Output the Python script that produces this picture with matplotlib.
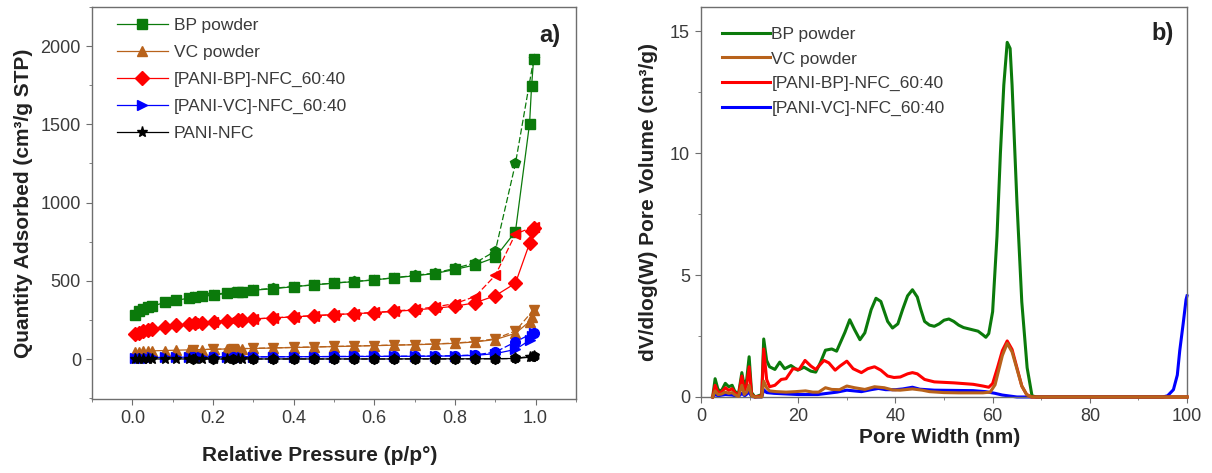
"""Nitrogen isotherms (a) and pore size distributions (b) for the carbon powders
and the PANI/NFC composites."""

import matplotlib
matplotlib.use("Agg")
import matplotlib.pyplot as plt
from matplotlib.ticker import MultipleLocator

# ---- panel a: isotherms ------------------------------------------------------
P_ADS = [0.007, 0.016, 0.026, 0.038, 0.05, 0.082, 0.109, 0.14, 0.156, 0.173,
         0.203, 0.236, 0.262, 0.272, 0.298, 0.35, 0.40, 0.45, 0.50, 0.55,
         0.60, 0.65, 0.70, 0.75, 0.80, 0.85, 0.90, 0.95, 0.985, 0.99, 0.995]
P_DES = [0.995, 0.95, 0.90, 0.85, 0.80, 0.75, 0.70, 0.65, 0.60, 0.55, 0.50,
         0.45, 0.40, 0.35, 0.30, 0.25, 0.20, 0.15]

BP_ADS = [285, 305, 320, 333, 340, 362, 375, 390, 395, 402, 410, 420, 428, 432,
          440, 450, 463, 474, 486, 495, 506, 520, 532, 547, 573, 602, 650, 815,
          1505, 1745, 1915]
BP_DES = [1915, 1250, 690, 615, 580, 550, 535, 520, 507, 496, 486, 475, 464,
          453, 442, 430, 412, 397]

VC_ADS = [45, 48, 50, 52, 53, 55, 57, 59, 60, 61, 63, 65, 66, 67, 68, 71, 74,
          77, 80, 83, 86, 89, 92, 96, 101, 110, 125, 165, 240, 270, 315]
VC_DES = [315, 180, 130, 112, 103, 97, 93, 90, 87, 84, 81, 78, 75, 72, 69, 66,
          63, 60]

PBP_ADS = [158, 170, 180, 188, 195, 205, 215, 225, 228, 232, 238, 245, 250, 252,
           256, 263, 270, 277, 285, 290, 297, 305, 314, 325, 338, 360, 405, 485,
           740, 820, 835]
PBP_DES = [845, 800, 535, 400, 355, 333, 318, 307, 298, 291, 284, 278, 271,
           264, 257, 250, 240, 230]

PVC_ADS = [8, 9, 10, 10, 11, 11, 12, 12, 12, 13, 13, 13, 14, 14, 14, 15, 15, 16,
           16, 17, 17, 18, 18, 19, 20, 24, 35, 62, 120, 145, 165]
PVC_DES = [170, 110, 45, 27, 22, 20, 19, 18, 18, 17, 17, 16, 16, 15, 15, 14,
           14, 13]

PN_ADS = [1, 1, 1, 1, 1, 1, 1, 1, 1, 1, 1, 1, 1, 1, 1, 1, 1, 1, 1, 1, 1, 1, 2,
          2, 2, 2, 3, 4, 12, 16, 22]
PN_DES = [22, 4, 2, 2, 1, 1, 1, 1, 1, 1, 1, 1, 1, 1, 1, 1, 1, 1]

# ---- panel b: pore size distributions -----------------------------------------
W_BP = [2.4, 2.9, 3.5, 4.2, 5.0, 5.7, 6.4, 6.9, 7.7, 8.4, 8.9, 9.4, 9.9, 10.4,
        11.1, 12.5, 12.9, 13.5, 14.1, 15.2, 16.2, 17.2, 18.5, 19.9, 21.2, 22.6,
        23.6, 24.6, 25.6, 26.9, 27.9, 29.6, 30.6, 31.6, 32.7, 33.7, 35.0, 36.0,
        37.0, 38.4, 39.4, 40.5, 41.5, 42.5, 43.5, 44.5, 45.2, 46.0, 47.0, 48.0,
        49.0, 50.0, 51.0, 52.0, 53.0, 54.0, 55.0, 56.0, 57.0, 58.0, 58.6, 59.2,
        60.0, 60.9, 61.6, 62.3, 63.0, 63.6, 64.0, 65.0, 66.0, 67.1, 68.1, 69.0,
        100.0]
V_BP = [0.0, 0.75, 0.3, 0.25, 0.56, 0.42, 0.48, 0.25, 0.1, 1.0, 0.45, 0.72,
        1.65, 0.18, 0.0, 0.1, 2.38, 1.5, 1.24, 1.13, 1.43, 1.16, 1.29, 1.1,
        1.22, 1.06, 1.02, 1.43, 1.92, 1.97, 1.88, 2.65, 3.17, 2.76, 2.35, 2.63,
        3.58, 4.05, 3.92, 3.1, 2.83, 3.0, 3.6, 4.15, 4.4, 4.1, 3.6, 3.1, 2.95,
        2.9, 3.0, 3.15, 3.2, 3.1, 2.95, 2.85, 2.8, 2.75, 2.7, 2.55, 2.45, 2.6,
        3.5, 6.6, 10.0, 12.8, 14.55, 14.3, 12.8, 8.0, 3.9, 1.2, 0.05, 0.0, 0.0]

W_VC = [2.4, 2.9, 3.5, 4.2, 5.0, 5.7, 6.4, 6.9, 7.7, 8.4, 8.9, 9.4, 9.9, 10.4,
        11.1, 12.5, 12.9, 13.5, 14.1, 15.5, 17.5, 19.5, 21.5, 23.0, 24.2, 25.6,
        26.9, 28.5, 30.0, 31.6, 33.7, 35.7, 37.7, 39.4, 41.0, 43.5, 45.5, 47.0,
        50.0, 53.0, 56.0, 58.0, 59.5, 60.5, 61.0, 62.0, 63.0, 64.0, 65.0, 66.0,
        67.0, 68.0, 69.0, 100.0]
V_VC = [0.0, 0.25, 0.1, 0.12, 0.2, 0.15, 0.18, 0.1, 0.02, 0.48, 0.1, 0.2, 0.48,
        0.05, 0.0, 0.0, 0.65, 0.38, 0.25, 0.22, 0.2, 0.22, 0.25, 0.2, 0.2, 0.38,
        0.31, 0.3, 0.45, 0.38, 0.31, 0.42, 0.38, 0.29, 0.28, 0.33, 0.28, 0.22,
        0.18, 0.17, 0.17, 0.17, 0.2, 0.5, 0.9, 1.7, 2.2, 1.85, 1.15, 0.45, 0.1,
        0.0, 0.0, 0.0]

W_PBP = [2.4, 2.9, 3.5, 4.2, 5.0, 5.7, 6.4, 6.9, 7.7, 8.4, 8.9, 9.4, 9.9, 10.4,
         11.1, 12.5, 12.9, 13.5, 14.1, 15.2, 16.5, 17.5, 18.9, 20.2, 21.4, 22.6,
         23.6, 25.3, 26.3, 27.6, 28.6, 30.0, 31.3, 33.0, 34.3, 35.7, 37.0, 38.4,
         39.7, 41.0, 42.5, 43.5, 44.5, 46.0, 48.0, 50.0, 52.0, 54.0, 56.0, 58.0,
         59.2, 60.0, 61.0, 62.0, 63.0, 64.0, 65.0, 66.0, 67.0, 68.0, 69.0, 100.0]
V_PBP = [0.0, 0.48, 0.18, 0.2, 0.38, 0.27, 0.34, 0.2, 0.05, 0.86, 0.25, 0.5,
         1.24, 0.1, 0.0, 0.05, 1.97, 0.72, 0.42, 0.48, 0.72, 0.75, 1.16, 1.13,
         1.5, 1.27, 1.13, 1.5, 1.4, 1.1, 1.27, 1.47, 1.16, 1.0, 1.16, 1.24, 1.1,
         0.86, 0.8, 0.82, 0.95, 1.0, 0.95, 0.72, 0.62, 0.6, 0.58, 0.55, 0.52,
         0.45, 0.4, 0.55, 1.2, 1.9, 2.3, 1.95, 1.2, 0.45, 0.1, 0.0, 0.0, 0.0]

W_PVC = [2.4, 2.9, 3.5, 5.0, 6.4, 7.7, 8.4, 9.0, 9.9, 10.4, 11.1, 12.5, 12.9,
         13.5, 15.0, 18.0, 20.0, 22.0, 24.0, 26.0, 28.0, 30.0, 31.5, 33.0, 35.0,
         36.5, 38.0, 40.0, 41.5, 43.5, 45.0, 48.0, 52.0, 56.0, 58.5, 60.5, 62.0,
         63.5, 65.0, 95.0, 96.0, 97.2, 98.0, 98.5, 99.2, 99.8, 100.0]
V_PVC = [0.0, 0.1, 0.05, 0.1, 0.08, 0.02, 0.15, 0.05, 0.2, 0.02, 0.0, 0.0, 0.3,
         0.18, 0.15, 0.12, 0.1, 0.1, 0.1, 0.15, 0.2, 0.28, 0.25, 0.22, 0.3, 0.35,
         0.3, 0.3, 0.33, 0.4, 0.32, 0.28, 0.27, 0.26, 0.22, 0.15, 0.08, 0.04,
         0.0, 0.0, 0.05, 0.3, 0.9, 1.9, 3.0, 4.0, 4.15]

LABELS = ["BP powder", "VC powder", "[PANI-BP]-NFC_60:40",
          "[PANI-VC]-NFC_60:40", "PANI-NFC"]
GREEN = "#0b7a0b"
BROWN = "#b8621b"
RED = "#ff0000"
BLUE = "#0000ff"
BLACK = "#000000"
SPINE = "#6e6e6e"
TXT = "#3a3a3a"

plt.rcParams.update({
    "font.family": ["Liberation Sans", "DejaVu Sans"],
    "axes.edgecolor": SPINE,
    "axes.linewidth": 1.0,
    "xtick.color": SPINE,
    "ytick.color": SPINE,
    "xtick.labelcolor": TXT,
    "ytick.labelcolor": TXT,
    "xtick.direction": "out",
    "ytick.direction": "out",
    "xtick.major.size": 4.5,
    "ytick.major.size": 4.5,
    "xtick.minor.size": 2.5,
    "ytick.minor.size": 2.5,
    "xtick.labelsize": 13,
    "ytick.labelsize": 13,
})


def style_axes(ax):
    ax.tick_params(which="both", top=False, right=False)
    for side in ("left", "bottom", "top", "right"):
        ax.spines[side].set_color(SPINE)


fig = plt.figure(figsize=(12.12, 4.73), dpi=100)
ax1 = fig.add_axes([0.0759, 0.1564, 0.3993, 0.8288])
ax2 = fig.add_axes([0.5784, 0.1607, 0.4010, 0.8245])

# ---- a) isotherms ---------------------------------------------------------------
iso = [
    (BP_ADS, BP_DES, GREEN, "s", "p"),
    (VC_ADS, VC_DES, BROWN, "^", "v"),
    (PBP_ADS, PBP_DES, RED, "D", "<"),
    (PVC_ADS, PVC_DES, BLUE, ">", "o"),
    (PN_ADS, PN_DES, BLACK, "*", "h"),
]
handles = []
for (ads, des, col, m_ads, m_des), lab in zip(iso, LABELS):
    h, = ax1.plot(P_ADS, ads, color=col, lw=0.9, marker=m_ads,
                  ms=8 if m_ads == "*" else 7, mec=col, mfc=col, label=lab)
    ax1.plot(P_DES, des, color=col, lw=0.9, ls=(0, (5, 2)), marker=m_des,
             ms=7, mec=col, mfc=col)
    handles.append(h)

ax1.set_xlim(-0.1, 1.1)
ax1.set_ylim(-255, 2250)
ax1.xaxis.set_major_locator(MultipleLocator(0.2))
ax1.xaxis.set_minor_locator(MultipleLocator(0.1))
ax1.yaxis.set_major_locator(MultipleLocator(500))
ax1.yaxis.set_minor_locator(MultipleLocator(250))
ax1.xaxis.set_major_formatter(plt.FormatStrFormatter("%.1f"))
style_axes(ax1)

ax1.set_xlabel("Relative Pressure (p/p°)", fontsize=15, fontweight="bold",
               color="#222222")
ax1.set_ylabel("Quantity Adsorbed (cm³/g STP)", fontsize=15, fontweight="bold",
               color="#222222")
ax1.xaxis.set_label_coords(0.47, -0.143)
ax1.xaxis.label.set_verticalalignment("center")
ax1.yaxis.set_label_coords(-0.142, 0.5)
ax1.yaxis.label.set_verticalalignment("center")

ax1.legend(handles=handles, loc="upper left", bbox_to_anchor=(0.052, 0.972),
           frameon=False, fontsize=12.5, handlelength=2.9, handletextpad=0.35,
           labelspacing=0.68, borderpad=0, borderaxespad=0, labelcolor=TXT)
ax1.text(0.946, 0.928, "a)", transform=ax1.transAxes, fontsize=17,
         fontweight="bold", color="#222222", ha="center", va="center")

# ---- b) pore size distributions ---------------------------------------------------
psd = [
    (W_PVC, V_PVC, BLUE, LABELS[3], 1),
    (W_BP, V_BP, GREEN, LABELS[0], 2),
    (W_PBP, V_PBP, RED, LABELS[2], 3),
    (W_VC, V_VC, BROWN, LABELS[1], 4),
]
lines = {}
for w, v, col, lab, z in psd:
    ln, = ax2.plot(w, v, color=col, lw=2.2, label=lab, zorder=z,
                   solid_joinstyle="round", clip_on=False)
    lines[lab] = ln

ax2.set_xlim(0, 100)
ax2.set_ylim(0, 16)
ax2.xaxis.set_major_locator(MultipleLocator(20))
ax2.xaxis.set_minor_locator(MultipleLocator(10))
ax2.yaxis.set_major_locator(MultipleLocator(5))
ax2.yaxis.set_minor_locator(MultipleLocator(2.5))
style_axes(ax2)

ax2.set_xlabel("Pore Width (nm)", fontsize=15, fontweight="bold",
               color="#222222")
ax2.set_ylabel("dV/dlog(W) Pore Volume (cm³/g)", fontsize=15,
               fontweight="bold", color="#222222")
ax2.xaxis.set_label_coords(0.49, -0.103)
ax2.xaxis.label.set_verticalalignment("center")
ax2.yaxis.set_label_coords(-0.109, 0.5)
ax2.yaxis.label.set_verticalalignment("center")

ax2.legend(handles=[lines[l] for l in LABELS[:4]], loc="upper left",
           bbox_to_anchor=(0.043, 0.949), frameon=False, fontsize=12.5,
           handlelength=2.75, handletextpad=0.1, labelspacing=0.54,
           borderpad=0, borderaxespad=0, labelcolor=TXT)
ax2.text(0.949, 0.933, "b)", transform=ax2.transAxes, fontsize=17,
         fontweight="bold", color="#222222", ha="center", va="center")

fig.savefig("out.png", dpi=100)
